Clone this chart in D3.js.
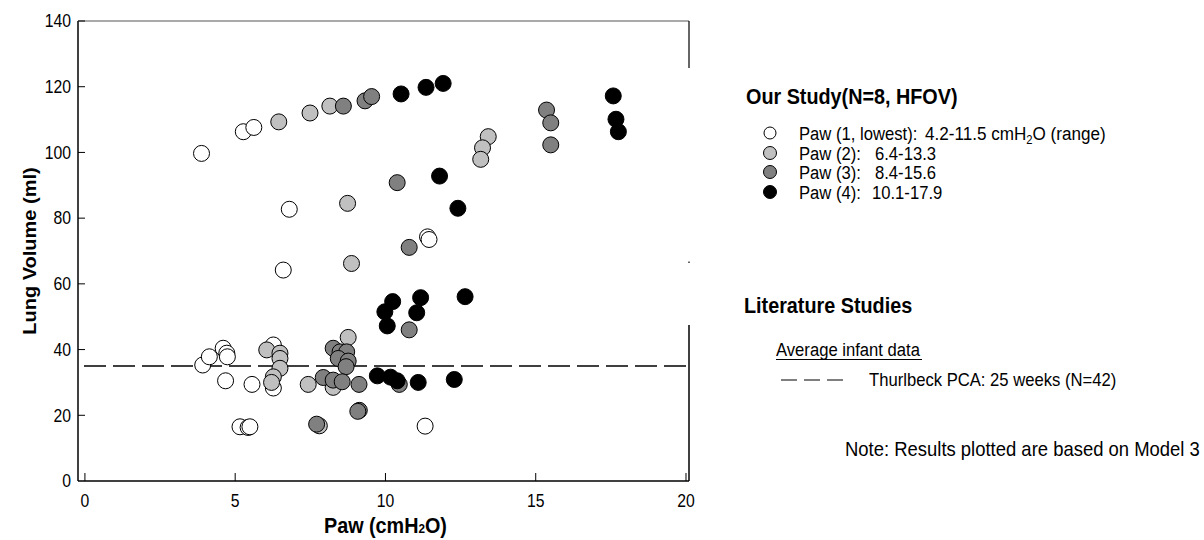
<!DOCTYPE html>
<html>
<head>
<meta charset="utf-8">
<script src="https://cdn.jsdelivr.net/npm/d3@7"></script>
<style>
  body { margin: 0; background: #fff; }
  svg { display: block; }
  text { font-family: "Liberation Sans", Arial, sans-serif; fill: #000; }
</style>
</head>
<body>
<svg id="chart" width="1204" height="540"></svg>
<script>
// Axis ticks
const xTicks = [0, 5, 10, 15, 20];
const yTicks = [0, 20, 40, 60, 80, 100, 120, 140];

// Lung volume (ml) against mean airway pressure Paw (cmH2O), one array per Paw level
const paw1 = [[3.88, 99.7], [5.27, 106.3], [5.62, 107.6], [6.80, 82.7], [6.60, 64.2], [11.40, 74.3],
  [11.45, 73.5], [3.92, 35.3], [4.14, 37.8], [4.60, 40.4], [4.72, 38.9], [4.74, 37.8], [4.68, 30.5],
  [5.56, 29.4], [5.16, 16.5], [5.43, 16.3], [5.49, 16.5], [6.27, 41.4], [6.27, 28.3], [11.32, 16.7]];
const paw2 = [[6.45, 109.3], [7.49, 112.0], [8.15, 114.1], [13.42, 104.8], [13.23, 101.4], [13.17, 97.9],
  [8.74, 84.5], [8.87, 66.2], [8.76, 43.7], [6.05, 39.9], [6.49, 38.9], [6.49, 37.3], [6.49, 34.3],
  [6.27, 31.7], [6.21, 30.0], [7.43, 29.4], [8.26, 28.5], [7.80, 16.8]];
const paw3 = [[8.60, 114.1], [9.32, 115.7], [9.54, 117.0], [15.36, 112.9], [15.50, 109.0], [15.50, 102.3],
  [10.39, 90.8], [10.79, 71.1], [10.79, 46.0], [8.26, 40.4], [8.49, 39.3], [8.71, 39.3], [8.43, 37.3],
  [8.76, 36.5], [8.69, 34.8], [7.93, 31.5], [8.26, 30.7], [8.56, 30.2], [9.12, 29.4], [10.46, 29.4],
  [9.13, 21.5], [9.08, 21.2], [7.71, 17.3]];
const paw4 = [[10.52, 117.8], [11.35, 119.8], [11.92, 121.0], [17.58, 117.2], [17.67, 110.1], [17.75, 106.3],
  [11.80, 92.8], [12.41, 83.0], [10.24, 54.6], [11.17, 55.8], [9.98, 51.5], [11.04, 51.2], [10.06, 47.2],
  [12.65, 56.1], [9.73, 32.0], [10.17, 31.6], [10.39, 30.5], [11.09, 30.0], [12.29, 30.9]];

// Literature reference: Thurlbeck PCA 25 weeks (N=42)
const thurlbeckVolume = 35;

// Legend entries
const seriesNames = ["Paw (1, lowest):", "Paw (2):", "Paw (3):", "Paw (4):"];
const seriesRanges = ["4.2-11.5 cmH", "6.4-13.3", "8.4-15.6", "10.1-17.9"];
const seriesFills = ["#ffffff", "#c0c0c0", "#808080", "#000000"];
const seriesData = [paw1, paw2, paw3, paw4];

const svg = d3.select("#chart");
const SX = 0.9; // horizontal squeeze of the lettering

const x = d3.scaleLinear().domain([-0.23, 20.1]).range([78, 689]);
const y = d3.scaleLinear().domain([0, 140]).range([481, 21]);

function label(sel, tx, ty, str, opts = {}) {
  const t = sel.append("text")
    .attr("transform", `translate(${tx},${ty}) scale(${opts.sx ?? SX},1)`)
    .attr("font-size", opts.size ?? 18.5)
    .attr("font-weight", opts.bold ? "bold" : "normal")
    .attr("text-anchor", opts.anchor ?? "start")
    .text(str);
  return t;
}

// Frame
const frame = svg.append("g").attr("stroke", "#000").attr("fill", "none");
const [x0, x1] = x.range();
const [yb, yt] = y.range();
frame.append("line").attr("x1", x0).attr("x2", x0).attr("y1", yt).attr("y2", yb).attr("stroke-width", 1.5);
frame.append("line").attr("x1", x0).attr("x2", x1).attr("y1", yb).attr("y2", yb).attr("stroke-width", 1.5);
frame.append("line").attr("x1", x0).attr("x2", x1).attr("y1", yt).attr("y2", yt).attr("stroke-width", 1).attr("stroke", "#555");
frame.append("line").attr("x1", x1).attr("x2", x1).attr("y1", yt).attr("y2", 68).attr("stroke-width", 1.2);
frame.append("line").attr("x1", x1).attr("x2", x1).attr("y1", 261.5).attr("y2", 263).attr("stroke-width", 1.2);
frame.append("line").attr("x1", x1).attr("x2", x1).attr("y1", 325).attr("y2", yb).attr("stroke-width", 1.5);

// Ticks (inside)
const ticks = svg.append("g").attr("stroke", "#000").attr("stroke-width", 1);
ticks.selectAll(".xt").data(xTicks).join("line")
  .attr("x1", d => x(d)).attr("x2", d => x(d)).attr("y1", yb).attr("y2", yb - 8);
ticks.selectAll(".yt").data(yTicks.filter(d => d > 0)).join("line")
  .attr("x1", x0).attr("x2", x0 + 7).attr("y1", d => y(d)).attr("y2", d => y(d));

const tl = svg.append("g");
xTicks.forEach(d => label(tl, x(d), 507, String(d), { size: 17.5, anchor: "middle" }));
yTicks.forEach(d => label(tl, 71, y(d) + 6.3, String(d), { size: 17.5, anchor: "end" }));

// Axis titles
const xt = label(svg, x(10), 533, "Paw (cmH", { size: 22, bold: true, anchor: "middle" });
xt.append("tspan").attr("font-size", 13).text("2");
xt.append("tspan").text("O)");
svg.append("text")
  .attr("transform", `translate(36,${(yt + yb) / 2}) rotate(-90) scale(1,${SX})`)
  .attr("font-size", 20).attr("font-weight", "bold").attr("text-anchor", "middle")
  .text("Lung Volume (ml)");

// Reference line
svg.append("line")
  .attr("x1", x0).attr("x2", x1)
  .attr("y1", y(thurlbeckVolume)).attr("y2", y(thurlbeckVolume))
  .attr("stroke", "#000").attr("stroke-width", 1.5)
  .attr("stroke-dasharray", "22,7").attr("stroke-dashoffset", -6);

// Data points
seriesData.forEach((data, i) => {
  svg.append("g").selectAll("circle").data(data).join("circle")
    .attr("cx", d => x(d[0])).attr("cy", d => y(d[1])).attr("r", 8)
    .attr("fill", seriesFills[i]).attr("stroke", "#000").attr("stroke-width", 1);
});

// Legend
const lg = svg.append("g");
label(lg, 746, 104, "Our Study(N=8, HFOV)", { size: 22, bold: true });
const rowY = [133, 153, 172, 192];
const rangeX = [925, 875, 875, 872];
seriesNames.forEach((name, i) => {
  lg.append("circle").attr("cx", 770).attr("cy", rowY[i]).attr("r", i === 0 ? 6 : 6.5)
    .attr("fill", seriesFills[i]).attr("stroke", "#000").attr("stroke-width", 1);
  label(lg, 799, rowY[i] + 6.5, name);
  const r = label(lg, rangeX[i], rowY[i] + 6.5, seriesRanges[i], { size: i === 0 ? 19 : 18.5 });
  if (i === 0) {
    r.append("tspan").attr("font-size", 12.5).attr("dy", 4).text("2");
    r.append("tspan").attr("dy", -4).text("O (range)");
  }
});

label(lg, 744, 313, "Literature Studies", { size: 22, bold: true });
label(lg, 776, 356, "Average infant data");
lg.append("line").attr("x1", 776).attr("x2", 922).attr("y1", 359.5).attr("y2", 359.5)
  .attr("stroke", "#000").attr("stroke-width", 1);
lg.append("line").attr("x1", 781).attr("x2", 843).attr("y1", 380).attr("y2", 380)
  .attr("stroke", "#000").attr("stroke-width", 1.2).attr("stroke-dasharray", "16,7");
label(lg, 869, 386, "Thurlbeck PCA: 25 weeks (N=42)");
label(lg, 845, 456, "Note: Results plotted are based on Model 3", { size: 20.5 });
</script>
</body>
</html>
